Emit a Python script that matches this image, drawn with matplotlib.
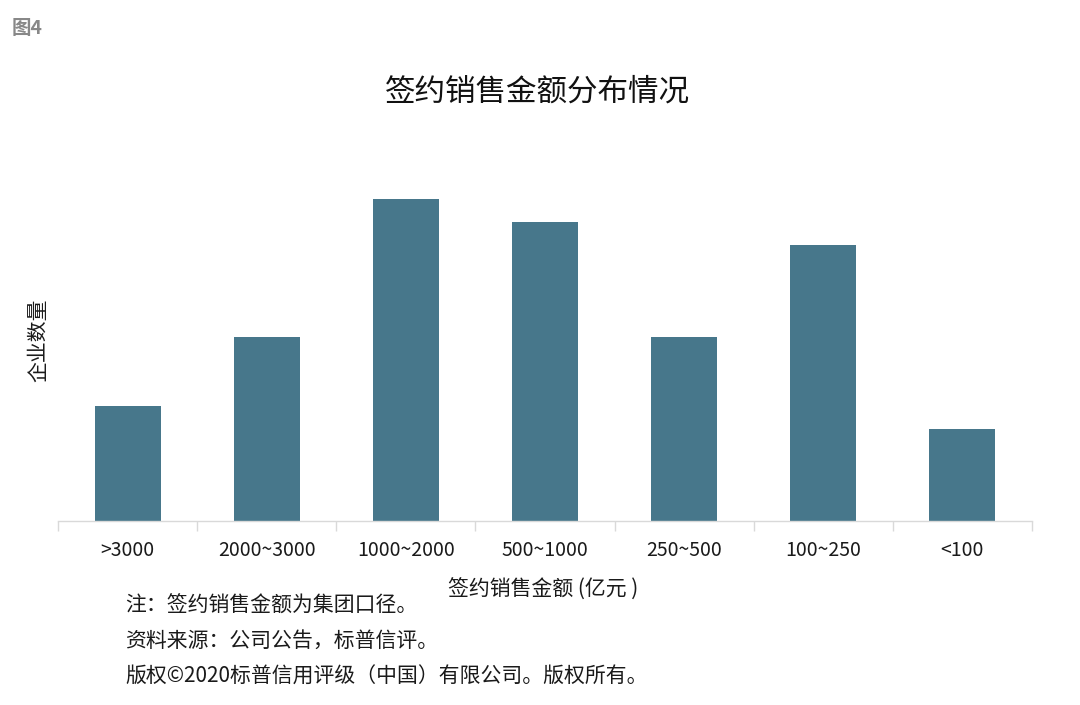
import matplotlib
matplotlib.use("Agg")
import matplotlib.pyplot as plt

plt.rcParams['font.family'] = ['Noto Sans CJK SC', 'DejaVu Sans']

categories = [">3000", "2000~3000", "1000~2000", "500~1000", "250~500", "100~250", "<100"]
counts = [5, 8, 14, 13, 8, 12, 4]

title = "签约销售金额分布情况"
xlabel = "签约销售金额 (亿元 )"
ylabel = "企业数量"
notes = ["注：签约销售金额为集团口径。",
         "资料来源：公司公告，标普信评。",
         "版权©2020标普信用评级（中国）有限公司。版权所有。"]

W, H = 1080, 705
fig = plt.figure(figsize=(W / 100, H / 100), dpi=100)
ax = fig.add_axes([58 / W, (H - 521) / H, (1032 - 58) / W, 345 / H])

x = list(range(len(categories)))
ax.bar(x, counts, width=0.475, color="#47778b", zorder=2)
ax.set_xlim(-0.5, len(categories) - 0.5)
ax.set_ylim(0, 15)

for s in ["top", "right", "left"]:
    ax.spines[s].set_visible(False)
ax.spines["bottom"].set_color("#d9d9d9")
ax.spines["bottom"].set_linewidth(1.0)
ax.set_yticks([])
ax.set_xticks(x)
ax.set_xticklabels(categories, fontsize=14, color="#1a1a1a")
ax.tick_params(axis="x", length=0, pad=14)
# category-boundary tick marks
ax.set_xticks([i - 0.5 for i in range(len(categories) + 1)], minor=True)
ax.tick_params(axis="x", which="minor", length=7, color="#d9d9d9", width=1.0)

fig.text(543 / W, 1 - 590 / H, xlabel, ha="center", va="center", fontsize=15, color="#1a1a1a")
fig.text(38 / W, 1 - 340 / H, ylabel, ha="center", va="center", rotation=90, fontsize=15, color="#1a1a1a")
fig.text(537 / W, 1 - 92 / H, title, ha="center", va="center", fontsize=22, color="#111111")
fig.text(12 / W, 1 - 28 / H, "图4", ha="left", va="center", fontsize=14, color="#888888", fontweight="bold")

for t, yy in zip(notes, [606, 641, 677]):
    fig.text(125 / W, 1 - yy / H, t, ha="left", va="center", fontsize=15, color="#1a1a1a")

fig.savefig("out.png", dpi=100, facecolor="white")
